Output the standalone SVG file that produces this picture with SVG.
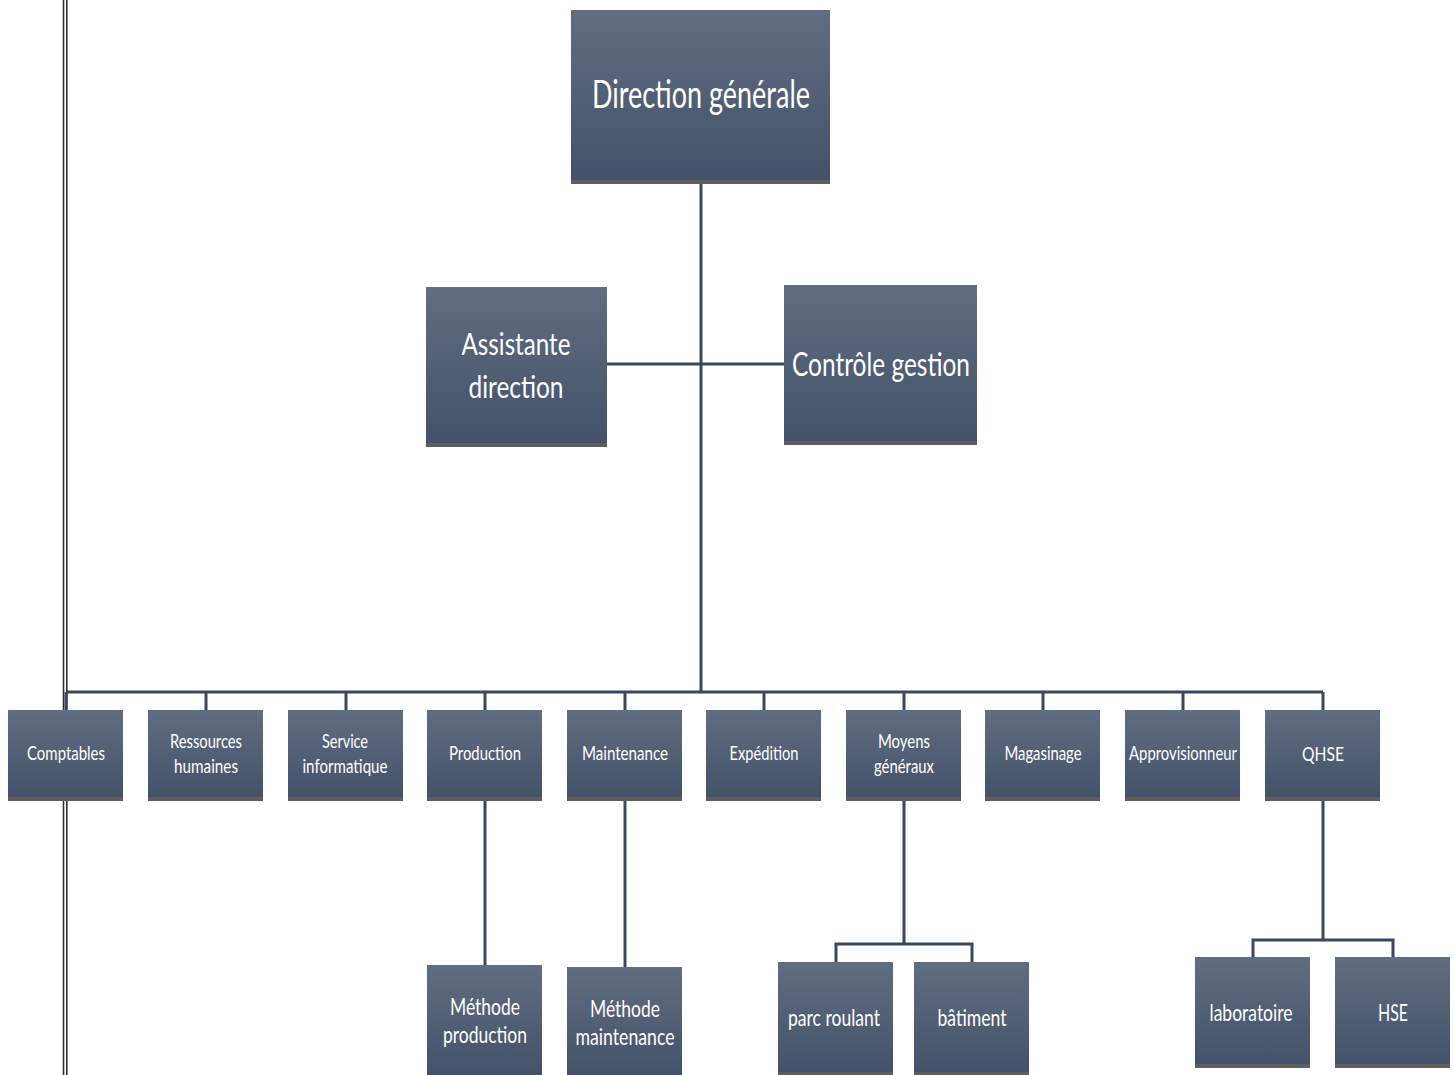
<svg xmlns="http://www.w3.org/2000/svg" width="1454" height="1075" viewBox="0 0 1454 1075">
<defs>
<linearGradient id="g" x1="0" y1="0" x2="0" y2="1">
<stop offset="0" stop-color="#616d80"/>
<stop offset="1" stop-color="#43526a"/>
</linearGradient>
</defs>
<style>
.box{fill:url(#g)}
.sh{fill:#5e5e5e}
.t{fill:#ffffff;font-family:Lato,"Liberation Sans",sans-serif;text-anchor:middle}
.c{stroke:#3a475c;stroke-width:3;fill:none}
.dl{stroke:#2e2e36;stroke-width:1.6}
</style>
<rect width="1454" height="1075" fill="#ffffff"/>
<g id="margin">
<line class="dl" x1="63.5" y1="0" x2="63.5" y2="1075"/>
<line class="dl" x1="66.8" y1="0" x2="66.8" y2="1075"/>
</g>
<g id="connectors">
<path class="c" d="M701 182V692"/>
<path class="c" d="M607 364H784"/>
<path class="c" d="M66 692H1323"/>
<path class="c" d="M66 692V710M206 692V710M346 692V710M485 692V710M625 692V710M764 692V710M904 692V710M1043 692V710M1183 692V710M1323 692V710"/>
<path class="c" d="M485 800V965"/>
<path class="c" d="M625 800V967"/>
<path class="c" d="M904 800V944M836 962V944H972V962"/>
<path class="c" d="M1323 800V940M1253 957V940H1393V957"/>
</g>
<g id="n-direction">
<rect class="sh" x="571" y="178" width="259" height="6"/>
<rect class="box" x="571" y="10" width="259" height="170"/>
<text class="t" x="701" y="108" font-size="38" textLength="218" lengthAdjust="spacingAndGlyphs">Direction générale</text>
</g>
<g id="n-assistante">
<rect class="sh" x="426" y="441" width="181" height="6"/>
<rect class="box" x="426" y="287" width="181" height="156"/>
<text class="t" x="516" y="355" font-size="31" textLength="109" lengthAdjust="spacingAndGlyphs">Assistante</text>
<text class="t" x="516" y="398" font-size="31" textLength="95" lengthAdjust="spacingAndGlyphs">direction</text>
</g>
<g id="n-controle">
<rect class="sh" x="784" y="439" width="193" height="6"/>
<rect class="box" x="784" y="285" width="193" height="156"/>
<text class="t" x="881" y="376" font-size="32" textLength="178" lengthAdjust="spacingAndGlyphs">Contrôle gestion</text>
</g>
<g id="n-comptables">
<rect class="sh" x="8" y="795" width="115" height="6"/>
<rect class="box" x="8" y="710" width="115" height="87"/>
<text class="t" x="66" y="760" font-size="20" textLength="78" lengthAdjust="spacingAndGlyphs">Comptables</text>
</g>
<g id="n-rh">
<rect class="sh" x="148" y="795" width="115" height="6"/>
<rect class="box" x="148" y="710" width="115" height="87"/>
<text class="t" x="206" y="748" font-size="20" textLength="72" lengthAdjust="spacingAndGlyphs">Ressources</text>
<text class="t" x="206" y="773" font-size="20" textLength="64" lengthAdjust="spacingAndGlyphs">humaines</text>
</g>
<g id="n-info">
<rect class="sh" x="288" y="795" width="115" height="6"/>
<rect class="box" x="288" y="710" width="115" height="87"/>
<text class="t" x="345" y="748" font-size="20" textLength="46" lengthAdjust="spacingAndGlyphs">Service</text>
<text class="t" x="345" y="773" font-size="20" textLength="85" lengthAdjust="spacingAndGlyphs">informatique</text>
</g>
<g id="n-production">
<rect class="sh" x="427" y="795" width="115" height="6"/>
<rect class="box" x="427" y="710" width="115" height="87"/>
<text class="t" x="485" y="760" font-size="20" textLength="72" lengthAdjust="spacingAndGlyphs">Production</text>
</g>
<g id="n-maintenance">
<rect class="sh" x="567" y="795" width="115" height="6"/>
<rect class="box" x="567" y="710" width="115" height="87"/>
<text class="t" x="625" y="760" font-size="20" textLength="86" lengthAdjust="spacingAndGlyphs">Maintenance</text>
</g>
<g id="n-expedition">
<rect class="sh" x="706" y="795" width="115" height="6"/>
<rect class="box" x="706" y="710" width="115" height="87"/>
<text class="t" x="764" y="760" font-size="20" textLength="69" lengthAdjust="spacingAndGlyphs">Expédition</text>
</g>
<g id="n-moyens">
<rect class="sh" x="846" y="795" width="115" height="6"/>
<rect class="box" x="846" y="710" width="115" height="87"/>
<text class="t" x="904" y="748" font-size="20" textLength="52" lengthAdjust="spacingAndGlyphs">Moyens</text>
<text class="t" x="904" y="773" font-size="20" textLength="60" lengthAdjust="spacingAndGlyphs">généraux</text>
</g>
<g id="n-magasinage">
<rect class="sh" x="985" y="795" width="115" height="6"/>
<rect class="box" x="985" y="710" width="115" height="87"/>
<text class="t" x="1043" y="760" font-size="20" textLength="77" lengthAdjust="spacingAndGlyphs">Magasinage</text>
</g>
<g id="n-appro">
<rect class="sh" x="1125" y="795" width="115" height="6"/>
<rect class="box" x="1125" y="710" width="115" height="87"/>
<text class="t" x="1183" y="760" font-size="20" textLength="108" lengthAdjust="spacingAndGlyphs">Approvisionneur</text>
</g>
<g id="n-qhse">
<rect class="sh" x="1265" y="795" width="115" height="6"/>
<rect class="box" x="1265" y="710" width="115" height="87"/>
<text class="t" x="1323" y="761" font-size="20" textLength="42" lengthAdjust="spacingAndGlyphs">QHSE</text>
</g>
<g id="n-meth-prod">
<rect class="box" x="427" y="965" width="115" height="110"/>
<text class="t" x="485" y="1015" font-size="23" textLength="70" lengthAdjust="spacingAndGlyphs">Méthode</text>
<text class="t" x="485" y="1043" font-size="23" textLength="84" lengthAdjust="spacingAndGlyphs">production</text>
</g>
<g id="n-meth-maint">
<rect class="box" x="567" y="967" width="115" height="108"/>
<text class="t" x="625" y="1017" font-size="23" textLength="70" lengthAdjust="spacingAndGlyphs">Méthode</text>
<text class="t" x="625" y="1045" font-size="23" textLength="99" lengthAdjust="spacingAndGlyphs">maintenance</text>
</g>
<g id="n-parc">
<rect class="sh" x="778" y="1070" width="115" height="5"/>
<rect class="box" x="778" y="962" width="115" height="110"/>
<text class="t" x="834" y="1026" font-size="23" textLength="92" lengthAdjust="spacingAndGlyphs">parc roulant</text>
</g>
<g id="n-batiment">
<rect class="sh" x="914" y="1070" width="115" height="5"/>
<rect class="box" x="914" y="962" width="115" height="110"/>
<text class="t" x="972" y="1026" font-size="23" textLength="69" lengthAdjust="spacingAndGlyphs">bâtiment</text>
</g>
<g id="n-labo">
<rect class="sh" x="1195" y="1063" width="115" height="5"/>
<rect class="box" x="1195" y="957" width="115" height="107"/>
<text class="t" x="1251" y="1021" font-size="23" textLength="83" lengthAdjust="spacingAndGlyphs">laboratoire</text>
</g>
<g id="n-hse">
<rect class="sh" x="1335" y="1063" width="115" height="5"/>
<rect class="box" x="1335" y="957" width="115" height="107"/>
<text class="t" x="1393" y="1021" font-size="23" textLength="30" lengthAdjust="spacingAndGlyphs">HSE</text>
</g>
</svg>
